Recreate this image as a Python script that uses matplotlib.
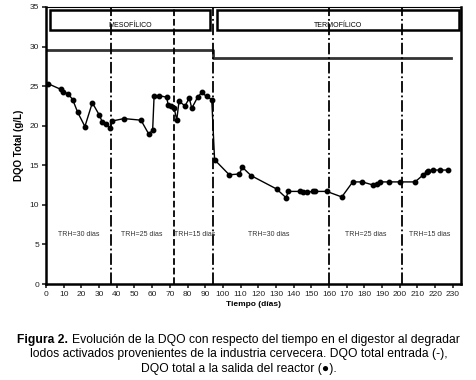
import matplotlib.pyplot as plt
from matplotlib.patches import Rectangle

plt.rcParams['font.family'] = ['Liberation Sans', 'DejaVu Sans']

# DQO total a la salida del reactor
days = [1.3, 8.3, 9.8, 12.6, 15.1, 17.9, 22.0, 26.2, 30.0, 31.8, 33.9, 36.2, 37.5,
        44.1, 53.7, 58.2, 60.3, 61.1, 64.0, 68.2, 69.1, 70.5, 72.4, 73.9, 75.2,
        78.6, 81.0, 82.4, 85.7, 88.0, 90.8, 93.7, 95.3, 103.6, 109.3, 111.0,
        115.9, 130.4, 135.7, 137.0, 143.6, 145.5, 147.4, 150.8, 152.0, 158.7,
        167.2, 173.4, 178.8, 185.0, 186.9, 188.8, 193.9, 200.1, 208.6, 213.3,
        215.2, 216.2, 218.9, 222.7, 227.4]
dqo_out = [25.3, 24.6, 24.3, 24.0, 23.3, 21.7, 19.9, 22.9, 21.4, 20.5, 20.2, 19.7,
           20.6, 20.9, 20.7, 18.9, 19.5, 23.7, 23.8, 23.6, 22.6, 22.5, 22.3, 20.7,
           23.1, 22.5, 23.5, 22.2, 23.6, 24.2, 23.7, 23.3, 15.7, 13.8, 13.9, 14.75,
           13.7, 12.0, 10.9, 11.7, 11.7, 11.6, 11.6, 11.7, 11.7, 11.7, 11.0, 12.9,
           12.9, 12.5, 12.6, 12.9, 12.9, 12.9, 12.9, 13.8, 14.2, 14.3, 14.4, 14.4,
           14.4]

# DQO total entrada
in_days = [0, 94.5, 94.5, 228.8]
dqo_in = [29.6, 29.6, 28.6, 28.6]

# cambios de TRH
trh_changes = [37, 72.5, 94.5, 160, 201]
trh_labels = ['TRH=30 dias', 'TRH=25 dias', 'TRH=15 dias',
              'TRH=30 dias', 'TRH=25 dias', 'TRH=15 dias']
trh_pos = [18.6, 54.3, 84, 126, 181, 216.7]

fig = plt.figure(figsize=(4.77, 3.80), dpi=100)
ax = fig.add_axes([0.0964, 0.2526, 0.8701, 0.729])

ax.plot(in_days, dqo_in, color='#333333', lw=2)
ax.plot(days, dqo_out, color='black', lw=1, marker='o', ms=3.2)

for i, x in enumerate(trh_changes):
    ls = '--' if i == 1 else '-.'
    ax.axvline(x, color='black', lw=1.3, ls=ls)

for x, t in zip(trh_pos, trh_labels):
    ax.text(x, 6.2, t, fontsize=5, ha='center', va='center', color='#333333')

# cajas mesofilico / termofilico
ax.add_patch(Rectangle((2.3, 32.1), 90.4, 2.5, fill=False, lw=1.8, ec='black'))
ax.add_patch(Rectangle((96.7, 32.1), 136.5, 2.5, fill=False, lw=1.8, ec='black'))
ax.text(47.5, 32.6, 'MESOFÍLICO', fontsize=5, ha='center', va='center')
ax.text(165, 32.6, 'TERMOFÍLICO', fontsize=5, ha='center', va='center')

ax.set_xlim(0, 234.6)
ax.set_ylim(0, 35)
ax.set_xticks(range(0, 231, 10))
ax.set_yticks(range(0, 36, 5))
ax.tick_params(labelsize=6, length=3, width=1.2, pad=2, colors='#222222')
for s in ['left', 'bottom', 'right']:
    ax.spines[s].set_linewidth(1.8)
ax.spines['top'].set_linewidth(0.8)

ax.set_xlabel('Tiempo (días)', fontsize=6, fontweight='bold', labelpad=2)
ax.set_ylabel('DQO Total (g/L)', fontsize=7, fontweight='bold', labelpad=4)

# pie de figura: "Figura 2." en negrita y el resto normal, centrados juntos
cap_size = 8.7
renderer = fig.canvas.get_renderer()
bold = fig.text(0, 1 - 340 / 380, 'Figura 2. ', fontsize=cap_size,
                fontweight='bold', va='center')
rest = fig.text(0, 1 - 340 / 380,
                'Evolución de la DQO con respecto del tiempo en el digestor al degradar',
                fontsize=cap_size, va='center')
w1 = bold.get_window_extent(renderer).width / fig.bbox.width
w2 = rest.get_window_extent(renderer).width / fig.bbox.width
x0 = 0.5 - (w1 + w2) / 2
bold.set_x(x0)
rest.set_x(x0 + w1)
fig.text(0.5, 1 - 354 / 380,
         'lodos activados provenientes de la industria cervecera. DQO total entrada (-),',
         fontsize=cap_size, ha='center', va='center')
fig.text(0.5, 1 - 369 / 380,
         'DQO total a la salida del reactor (●).',
         fontsize=cap_size, ha='center', va='center')

fig.savefig('out.png', dpi=100)
